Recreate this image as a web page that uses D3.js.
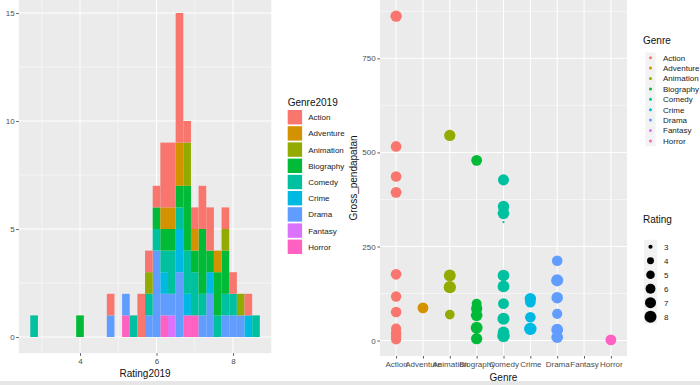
<!DOCTYPE html>
<html><head><meta charset="utf-8">
<script src="https://cdn.jsdelivr.net/npm/d3@7"></script>
<style>
html,body{margin:0;padding:0;background:#fff;}
svg{display:block;font-family:"Liberation Sans",Arial,Helvetica,sans-serif;}
</style></head><body>
<svg id="chart" width="700" height="385"></svg>
<script>
// ---------------- DATA ----------------
const genres = ["Action","Adventure","Animation","Biography","Comedy","Crime","Drama","Fantasy","Horror"];
const genreColors = ["#F8766D","#D39200","#93AA00","#00BA38","#00C19F","#00B9E3","#619CFF","#DB72FB","#FF61C3"];

// Histogram (Rating2019), bins of width 0.2 centred on these values
const binCenters = [2.8,4.0,4.8,5.2,5.4,5.6,5.8,6.0,6.2,6.4,6.6,6.8,7.0,7.2,7.4,7.6,7.8,8.0,8.2,8.4,8.6];
const binWidth = 0.2;
const histAction    = [0,0,1,0,0,2,1,1,3,3,6,1,1,2,2,0,1,1,0,1,0];
const histAdventure = [0,0,0,0,0,0,0,0,1,1,2,0,1,0,0,1,0,0,0,0,0];
const histAnimation = [0,0,0,0,0,0,1,0,0,0,0,2,0,0,0,0,1,0,1,0,0];
const histBiography = [0,1,0,0,0,0,0,1,1,1,1,3,1,3,1,2,2,0,0,0,0];
const histComedy    = [1,0,0,0,1,0,1,1,1,2,1,2,2,1,0,1,1,1,0,0,1];
const histCrime     = [0,0,0,0,0,0,0,0,1,0,2,1,0,0,1,0,0,0,0,1,0];
const histDrama     = [0,0,1,1,0,0,1,4,1,1,3,0,0,1,2,0,1,1,1,0,0];
const histFantasy   = [0,0,0,0,0,0,0,0,0,1,0,0,0,0,0,0,0,0,0,0,0];
const histHorror    = [0,0,0,1,0,0,0,0,1,0,0,1,1,0,0,0,0,0,0,0,0];
const histTicksX = [4,6,8];
const histTicksY = [0,5,10,15];

// Scatter (Genre vs Gross_pendapatan, size = Rating)
const scatterGenre = ["Action","Action","Action","Action","Action","Action","Action","Action","Action","Action","Action",
  "Adventure",
  "Animation","Animation","Animation","Animation",
  "Biography","Biography","Biography","Biography","Biography","Biography",
  "Comedy","Comedy","Comedy","Comedy","Comedy","Comedy","Comedy","Comedy","Comedy","Comedy",
  "Crime","Crime","Crime","Crime",
  "Drama","Drama","Drama","Drama","Drama","Drama",
  "Horror"];
const scatterGross = [862,516,436,394,176,117,76,32,20,10,3,
  87,
  545,173,142,69,
  479,98,85,67,34,5,
  427,356,338,315,173,144,98,58,22,13,
  111,102,62,31,
  212,160,114,71,29,9,
  2];
const scatterRating = [7.3,6.6,6.6,6.8,6.6,6.4,6.6,6.2,6.6,6.4,6.2,
  6.8,
  7.2,7.8,8.2,5.8,
  6.8,6.0,7.2,7.6,7.8,7.2,
  7.0,7.4,7.6,2.8,7.6,7.8,6.8,8.0,7.4,8.6,
  7.4,6.6,6.6,8.4,
  6.6,8.0,7.4,6.2,7.8,7.6,
  6.8];
const grossTicks = [0,250,500,750];
const ratingBreaks = [3,4,5,6,7,8];

// ---------------- DRAW ----------------
const svg = d3.select("#chart");
const color = d3.scaleOrdinal().domain(genres).range(genreColors);
const tickCol = "#333333", labCol = "#4D4D4D";

svg.append("rect").attr("x",0).attr("y",381).attr("width",700).attr("height",4).attr("fill","#E6E6E6");

// ===== Histogram =====
const lo = binCenters[0] - binWidth/2, hi = binCenters[binCenters.length-1] + binWidth/2;
const hx = d3.scaleLinear().domain([lo - 0.05*(hi-lo), hi + 0.05*(hi-lo)]).range([18.8, 271.3]);
const histSeries = {Action:histAction,Adventure:histAdventure,Animation:histAnimation,Biography:histBiography,
  Comedy:histComedy,Crime:histCrime,Drama:histDrama,Fantasy:histFantasy,Horror:histHorror};
const rows = binCenters.map((c,i)=>{const r={center:c}; genres.forEach(g=>r[g]=histSeries[g][i]); return r;});
const stackKeys = genres.slice().reverse();
const stacked = d3.stack().keys(stackKeys)(rows);
const maxCount = d3.max(rows, r=>d3.sum(genres, g=>r[g]));
const hy = d3.scaleLinear().domain([-0.05*maxCount, maxCount*1.05]).range([353.2, -3.2]);

const hp = svg.append("g");
hp.append("rect").attr("x",hx.range()[0]).attr("y",hy.range()[1])
  .attr("width",hx.range()[1]-hx.range()[0]).attr("height",hy.range()[0]-hy.range()[1]).attr("fill","#EBEBEB");
const hMinorX = [3,5,7], hMinorY = [2.5,7.5,12.5];
hp.selectAll(".hmx").data(hMinorX).join("line").attr("x1",d=>hx(d)).attr("x2",d=>hx(d))
  .attr("y1",hy.range()[1]).attr("y2",hy.range()[0]).attr("stroke","#fff").attr("stroke-width",0.5);
hp.selectAll(".hmy").data(hMinorY).join("line").attr("y1",d=>hy(d)).attr("y2",d=>hy(d))
  .attr("x1",hx.range()[0]).attr("x2",hx.range()[1]).attr("stroke","#fff").attr("stroke-width",0.5);
hp.selectAll(".hgx").data(histTicksX).join("line").attr("x1",d=>hx(d)).attr("x2",d=>hx(d))
  .attr("y1",hy.range()[1]).attr("y2",hy.range()[0]).attr("stroke","#fff").attr("stroke-width",1);
hp.selectAll(".hgy").data(histTicksY).join("line").attr("y1",d=>hy(d)).attr("y2",d=>hy(d))
  .attr("x1",hx.range()[0]).attr("x2",hx.range()[1]).attr("stroke","#fff").attr("stroke-width",1);

hp.selectAll("g.layer").data(stacked).join("g").attr("class","layer").attr("fill",d=>color(d.key))
  .selectAll("rect").data(d=>d.filter(s=>s[1]>s[0])).join("rect")
  .attr("x",d=>hx(d.data.center - binWidth/2))
  .attr("width",d=>hx(d.data.center + binWidth/2)-hx(d.data.center - binWidth/2))
  .attr("y",d=>hy(d[1])).attr("height",d=>hy(d[0])-hy(d[1]));

function styleAxis(g){
  g.select(".domain").remove();
  g.selectAll(".tick line").attr("stroke",tickCol).attr("stroke-width",0.8);
  g.selectAll(".tick text").attr("fill",labCol).attr("font-size","8px").attr("font-family","Liberation Sans, Arial, sans-serif");
}
svg.append("g").attr("transform",`translate(0,${hy.range()[0]})`)
  .call(d3.axisBottom(hx).tickValues(histTicksX).tickSize(2.6).tickPadding(2.5).tickFormat(d3.format("d"))).call(styleAxis);
svg.append("g").attr("transform",`translate(${hx.range()[0]},0)`)
  .call(d3.axisLeft(hy).tickValues(histTicksY).tickSize(2.6).tickPadding(1.5).tickFormat(d3.format("d"))).call(styleAxis);
svg.append("text").attr("x",(hx.range()[0]+hx.range()[1])/2).attr("y",377)
  .attr("text-anchor","middle").attr("font-size","10px").attr("fill","#111").text("Rating2019");

// Histogram legend
const hl = svg.append("g").attr("transform","translate(287.7,0)");
hl.append("text").attr("x",0).attr("y",105.5).attr("font-size","10px").attr("fill","#111").text("Genre2019");
const hlItems = hl.selectAll("g.it").data(genres).join("g").attr("class","it")
  .attr("transform",(d,i)=>`translate(0,${110 + i*16.2})`);
hlItems.append("rect").attr("width",14.4).attr("height",14.4).attr("fill",d=>color(d));
hlItems.append("text").attr("x",20.5).attr("y",10.2).attr("font-size","8px").attr("fill","#222").text(d=>d);

// ===== Scatter =====
const sx = d3.scalePoint().domain(genres).range([380, 627]).padding(0.6);
const gmax = d3.max(scatterGross), gmin = d3.min(scatterGross);
const sy = d3.scaleLinear().domain([gmin - 0.05*(gmax-gmin), gmax + 0.05*(gmax-gmin)]).range([356, 0]);
const rExt = d3.extent(scatterRating);
const rNorm = d3.scaleLinear().domain(rExt).range([0,1]).clamp(true);
const sizeScale = d3.scaleLinear().domain([0,1]).range([1.1, 6.3]);
const radius = v => sizeScale(Math.sqrt(rNorm(v)));

const sp = svg.append("g");
sp.append("rect").attr("x",380).attr("y",0).attr("width",247).attr("height",356).attr("fill","#EBEBEB");
const sMinorY = [125,375,625,875];
sp.selectAll(".smy").data(sMinorY).join("line").attr("y1",d=>sy(d)).attr("y2",d=>sy(d))
  .attr("x1",380).attr("x2",627).attr("stroke","#fff").attr("stroke-width",0.5);
sp.selectAll(".sgy").data(grossTicks).join("line").attr("y1",d=>sy(d)).attr("y2",d=>sy(d))
  .attr("x1",380).attr("x2",627).attr("stroke","#fff").attr("stroke-width",1);
sp.selectAll(".sgx").data(genres).join("line").attr("x1",d=>sx(d)).attr("x2",d=>sx(d))
  .attr("y1",0).attr("y2",356).attr("stroke","#fff").attr("stroke-width",1);

const pts = scatterGenre.map((g,i)=>({g, gross:scatterGross[i], rating:scatterRating[i]}));
sp.selectAll("circle").data(pts).join("circle")
  .attr("cx",d=>sx(d.g)).attr("cy",d=>sy(d.gross)).attr("r",d=>radius(d.rating)).attr("fill",d=>color(d.g));

svg.append("g").attr("transform","translate(0,356)")
  .call(d3.axisBottom(sx).tickSize(2.6).tickPadding(2.5)).call(styleAxis);
svg.append("g").attr("transform","translate(380,0)")
  .call(d3.axisLeft(sy).tickValues(grossTicks).tickSize(2.6).tickPadding(1.8).tickFormat(d3.format("d"))).call(styleAxis);
svg.append("text").attr("x",503.5).attr("y",381).attr("text-anchor","middle").attr("font-size","10px").attr("fill","#111").text("Genre");
svg.append("text").attr("transform","translate(357,178) rotate(-90)").attr("text-anchor","middle")
  .attr("font-size","10px").attr("fill","#111").text("Gross_pendapatan");

// Scatter legends
const sl = svg.append("g").attr("transform","translate(643,0)");
sl.append("text").attr("x",0).attr("y",43.5).attr("font-size","10px").attr("fill","#111").text("Genre");
const slItems = sl.selectAll("g.git").data(genres).join("g").attr("class","git")
  .attr("transform",(d,i)=>`translate(0,${52.5 + i*10.4})`);
slItems.append("rect").attr("x",2.5).attr("width",10).attr("height",10.4).attr("fill","#F2F2F2");
slItems.append("circle").attr("cx",7.5).attr("cy",5.2).attr("r",1.5).attr("fill",d=>color(d));
slItems.append("text").attr("x",20).attr("y",8).attr("font-size","8px").attr("fill","#222").text(d=>d);

sl.append("text").attr("x",0).attr("y",222.5).attr("font-size","10px").attr("fill","#111").text("Rating");
const rlItems = sl.selectAll("g.rit").data(ratingBreaks).join("g").attr("class","rit")
  .attr("transform",(d,i)=>`translate(0,${239.7 + i*14})`);
rlItems.append("rect").attr("x",1).attr("width",13).attr("height",14).attr("fill","#F2F2F2");
rlItems.append("circle").attr("cx",7.5).attr("cy",7).attr("r",d=>radius(d)).attr("fill","#000");
rlItems.append("text").attr("x",21).attr("y",10).attr("font-size","8px").attr("fill","#222").text(d=>d);
</script>
</body></html>
